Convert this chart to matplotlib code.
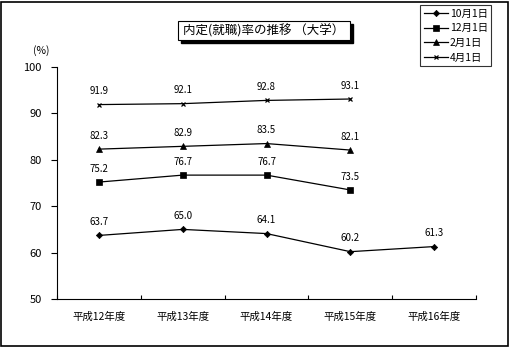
import matplotlib
matplotlib.use("Agg")
import matplotlib.pyplot as plt
from matplotlib.patches import Rectangle

plt.rcParams['font.family'] = ['Noto Sans CJK JP', 'DejaVu Sans']

categories = ['平成12年度', '平成13年度', '平成14年度', '平成15年度', '平成16年度']
series_names = ['10月1日', '12月1日', '2月1日', '4月1日']
oct1 = [63.7, 65.0, 64.1, 60.2, 61.3]
dec1 = [75.2, 76.7, 76.7, 73.5]
feb1 = [82.3, 82.9, 83.5, 82.1]
apr1 = [91.9, 92.1, 92.8, 93.1]
markers = ['D', 's', '^', 'x']
marker_sizes = [3.2, 3.8, 4.3, 3.5]

W, H = 510, 347
fig = plt.figure(figsize=(W / 100, H / 100), dpi=100)

# outer frame
fig.patches.append(Rectangle((1 / W, 1 / H), (W - 3) / W, (H - 3) / H, transform=fig.transFigure,
                             fill=False, edgecolor='black', linewidth=1.2))

ax = fig.add_axes([57 / W, (H - 299) / H, (476 - 57) / W, (299 - 67) / H])
ax.set_xlim(-0.5, 4.5)
ax.set_ylim(50, 100)
for s in ['top', 'right']:
    ax.spines[s].set_visible(False)
ax.spines['left'].set_linewidth(0.8)
ax.spines['bottom'].set_linewidth(0.8)

ax.set_yticks(range(50, 101, 10))
ax.tick_params(axis='y', direction='out', length=4, width=0.8, labelsize=8, pad=7)
ax.set_xticks([i - 0.5 for i in range(6)], minor=False)
ax.set_xticklabels([''] * 6)
ax.tick_params(axis='x', which='major', direction='in', length=3, width=0.8)
ax.set_xticks(range(5), minor=True)
ax.set_xticklabels(categories, minor=True, fontsize=7.5)
ax.tick_params(axis='x', which='minor', length=0, pad=9)

all_series = [oct1, dec1, feb1, apr1]
for vals, name, m, ms in zip(all_series, series_names, markers, marker_sizes):
    xs = list(range(len(vals)))
    ax.plot(xs, vals, color='black', linewidth=0.9, marker=m, markersize=ms,
            markeredgewidth=0.9 if m == 'x' else 0.5, label=name)
    for x, v in zip(xs, vals):
        ax.annotate(f'{v:.1f}', (x, v), xytext=(0, 6), textcoords='offset points',
                    ha='center', va='bottom', fontsize=7)

fig.text(33 / W, (H - 51) / H, '(%)', fontsize=7.5, ha='left', va='center')

# title box with drop shadow
tx0, ty0, tw, th = 178, 21, 172, 19
fig.patches.append(Rectangle(((tx0 + 3) / W, (H - ty0 - th - 3) / H), tw / W, th / H,
                             transform=fig.transFigure, facecolor='black', edgecolor='black'))
fig.patches.append(Rectangle((tx0 / W, (H - ty0 - th) / H), tw / W, th / H,
                             transform=fig.transFigure, facecolor='white', edgecolor='black',
                             linewidth=0.8))
fig.text((tx0 + tw / 2) / W, (H - ty0 - th / 2) / H, '内定(就職)率の推移 （大学）',
         ha='center', va='center', fontsize=9)

leg = ax.legend(loc='upper left', bbox_to_anchor=(420 / W, (H - 5) / H),
                bbox_transform=fig.transFigure, fontsize=7.5, frameon=True, fancybox=False,
                edgecolor='black', handlelength=2.3, handletextpad=0.2, borderpad=0.35,
                labelspacing=0.45, borderaxespad=0)
leg.get_frame().set_linewidth(0.8)

fig.savefig('out.png', dpi=100)
